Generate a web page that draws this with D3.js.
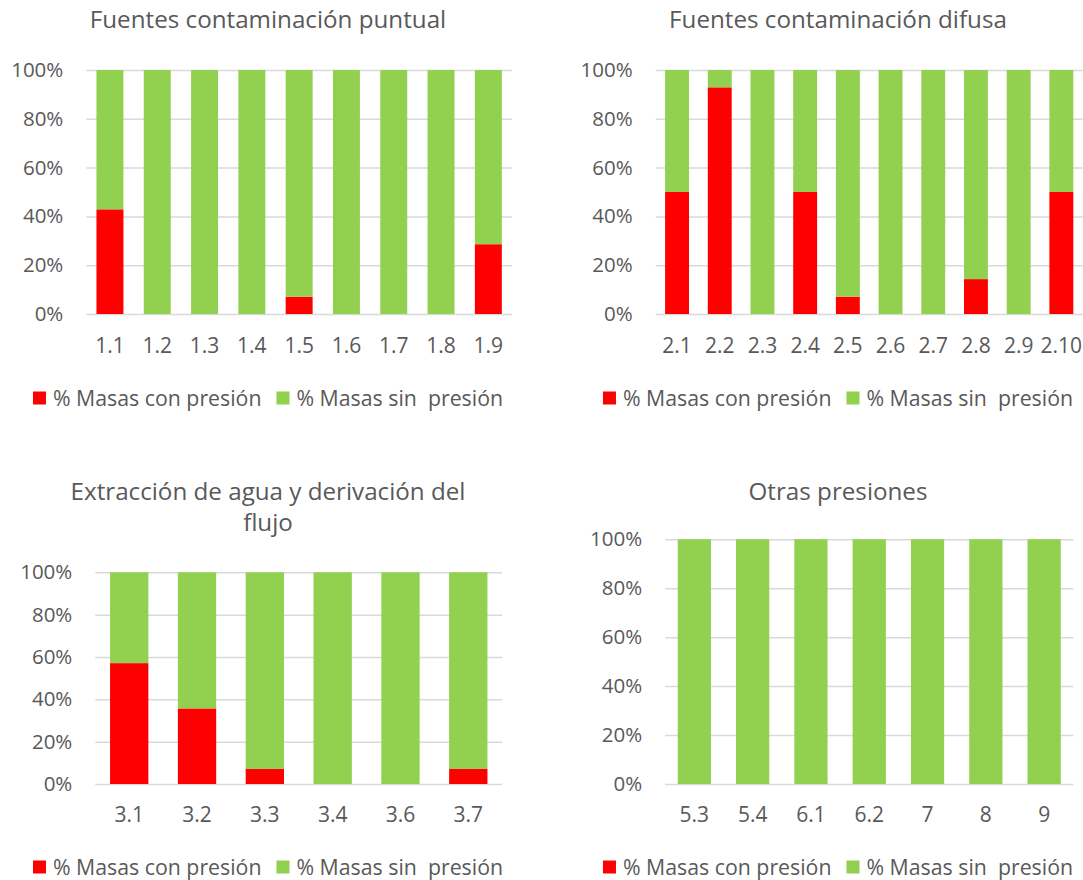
<!DOCTYPE html>
<html>
<head>
<meta charset="utf-8">
<script src="https://cdn.jsdelivr.net/npm/d3@7"></script>
<style>
  html, body { margin: 0; padding: 0; background: #fff; }
  svg { display: block; font-family: "Open Sans", "Noto Sans", sans-serif; }
  text { fill: #595959; }
</style>
</head>
<body>
<svg id="chart" width="1083" height="880"></svg>
<script>
// ---- Data ----
const seriesNames = ["% Masas con presión", "% Masas sin  presión"];
const seriesColors = ["#FF0000", "#92D050"];
const yTicks = [0, 20, 40, 60, 80, 100];

const cats1 = ["1.1", "1.2", "1.3", "1.4", "1.5", "1.6", "1.7", "1.8", "1.9"];
const con1  = [42.9, 0, 0, 0, 7.1, 0, 0, 0, 28.6];
const sin1  = [57.1, 100, 100, 100, 92.9, 100, 100, 100, 71.4];

const cats2 = ["2.1", "2.2", "2.3", "2.4", "2.5", "2.6", "2.7", "2.8", "2.9", "2.10"];
const con2  = [50, 92.9, 0, 50, 7.1, 0, 0, 14.3, 0, 50];
const sin2  = [50, 7.1, 100, 50, 92.9, 100, 100, 85.7, 100, 50];

const cats3 = ["3.1", "3.2", "3.3", "3.4", "3.6", "3.7"];
const con3  = [57.1, 35.7, 7.1, 0, 0, 7.1];
const sin3  = [42.9, 64.3, 92.9, 100, 100, 92.9];

const cats4 = ["5.3", "5.4", "6.1", "6.2", "7", "8", "9"];
const con4  = [0, 0, 0, 0, 0, 0, 0];
const sin4  = [100, 100, 100, 100, 100, 100, 100];

const titles1 = ["Fuentes contaminación puntual"];
const titles2 = ["Fuentes contaminación difusa"];
const titles3 = ["Extracción de agua y derivación del", "flujo"];
const titles4 = ["Otras presiones"];

// ---- Layout ----
const panels = [
  { cats: cats1, con: con1, sin: sin1, title: titles1,
    x0: 86.3, x1: 512, yTop: 70, yBot: 314, pad: 0.43,
    cx: 268, titleY: 28, xLabY: 353, legY: 398 },
  { cats: cats2, con: con2, sin: sin2, title: titles2,
    x0: 655.7, x1: 1082.7, yTop: 70, yBot: 314, pad: 0.44,
    cx: 838, titleY: 28, xLabY: 353, legY: 398 },
  { cats: cats3, con: con3, sin: sin3, title: titles3,
    x0: 95.3, x1: 502.2, yTop: 572.3, yBot: 784, pad: 0.435,
    cx: 268, titleY: 500, xLabY: 822, legY: 867 },
  { cats: cats4, con: con4, sin: sin4, title: titles4,
    x0: 665.2, x1: 1073.3, yTop: 539.3, yBot: 784, pad: 0.43,
    cx: 838, titleY: 500, xLabY: 822, legY: 867 }
];

const svg = d3.select("#chart");

panels.forEach(p => {
  const g = svg.append("g");
  const x = d3.scaleBand().domain(p.cats).range([p.x0, p.x1])
    .paddingInner(p.pad).paddingOuter(p.pad / 2);
  const y = d3.scaleLinear().domain([0, 100]).range([p.yBot, p.yTop]);

  // gridlines + y labels
  const yAxis = d3.axisLeft(y).tickValues(yTicks)
    .tickSize(-(p.x1 - p.x0)).tickPadding(23)
    .tickFormat(d => d + "%");
  const ya = g.append("g").attr("transform", `translate(${p.x0},0)`).call(yAxis);
  ya.select(".domain").remove();
  ya.selectAll(".tick line").attr("stroke", "#D9D9D9").attr("stroke-width", 1.5);
  ya.selectAll(".tick text").attr("font-size", 20.5).attr("fill", "#595959")
    .attr("font-family", "'Open Sans', sans-serif");

  // stacked bars
  const rows = p.cats.map((c, i) => ({ cat: c, con: p.con[i], sin: p.sin[i] }));
  const stack = d3.stack().keys(["con", "sin"])(rows);
  g.append("g").selectAll("g").data(stack).join("g")
    .attr("fill", (d, i) => seriesColors[i])
    .selectAll("rect").data(d => d).join("rect")
    .attr("x", d => x(d.data.cat))
    .attr("width", x.bandwidth())
    .attr("y", d => y(d[1]))
    .attr("height", d => Math.max(0, y(d[0]) - y(d[1])));

  // x axis labels
  const xAxis = d3.axisBottom(x).tickSize(0);
  const xa = g.append("g").attr("transform", `translate(0,${p.yBot})`).call(xAxis);
  xa.select(".domain").remove();
  xa.selectAll(".tick text").attr("y", p.xLabY - p.yBot).attr("dy", 0)
    .attr("font-size", 21).attr("fill", "#595959")
    .attr("font-family", "'Open Sans', sans-serif");

  // title
  const t = g.append("text").attr("text-anchor", "middle")
    .attr("font-size", 24.2).attr("fill", "#595959");
  p.title.forEach((line, i) => {
    t.append("tspan").attr("x", p.cx).attr("y", p.titleY + i * 31).text(line);
  });

  // legend
  const lg = g.append("g");
  const items = seriesNames.map((n, i) => {
    const it = lg.append("g");
    it.append("rect").attr("width", 13).attr("height", 13)
      .attr("y", p.legY - 6.5).attr("fill", seriesColors[i]);
    const tx = it.append("text").attr("x", 20).attr("y", p.legY + 7.5)
      .attr("font-size", 21.3).attr("fill", "#595959")
      .style("white-space", "pre").attr("xml:space", "preserve").text(n);
    return { it, w: 20 + tx.node().getComputedTextLength() };
  });
  const gap = 15;
  const total = items.reduce((s, d) => s + d.w, 0) + gap;
  let cur = p.cx - total / 2;
  items.forEach(d => {
    d.it.attr("transform", `translate(${cur},0)`);
    cur += d.w + gap;
  });
});
</script>
</body>
</html>
